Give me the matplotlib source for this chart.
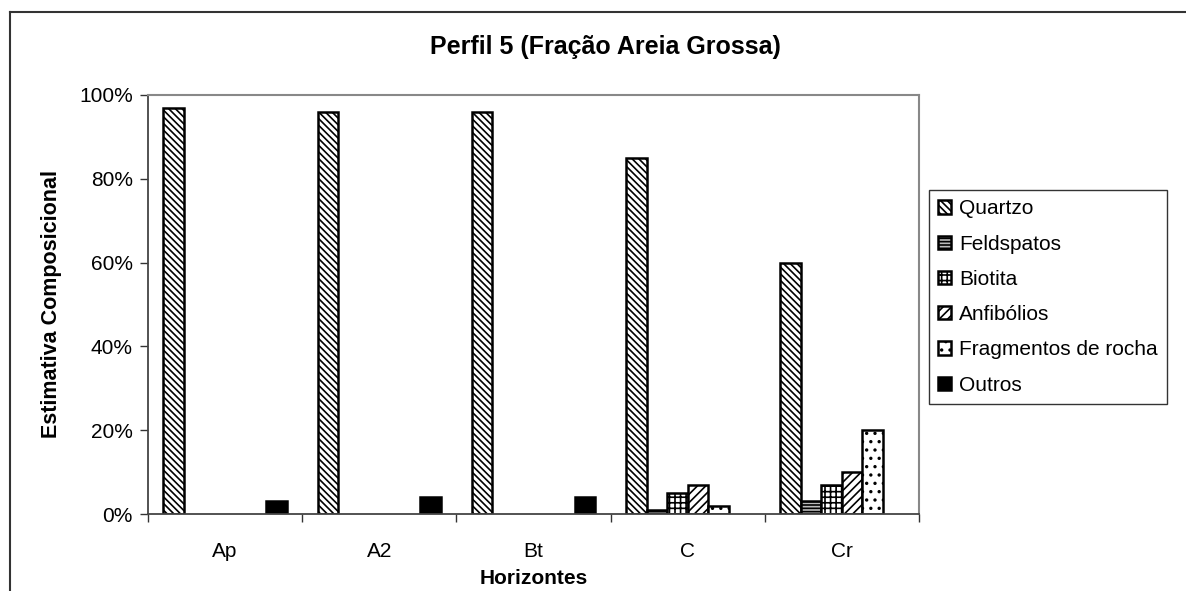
import matplotlib
matplotlib.use("Agg")
import matplotlib.pyplot as plt
import numpy as np
from matplotlib.lines import Line2D
from matplotlib.ticker import FixedLocator, PercentFormatter

plt.rcParams['font.family'] = ['Liberation Sans', 'DejaVu Sans']
plt.rcParams['hatch.linewidth'] = 1.2

horizontes = ['Ap', 'A2', 'Bt', 'C', 'Cr']
series = ['Quartzo', 'Feldspatos', 'Biotita', 'Anfibólios', 'Fragmentos de rocha', 'Outros']
quartzo = [97, 96, 96, 85, 60]
feldspatos = [0, 0, 0, 1, 3]
biotita = [0, 0, 0, 5, 7]
anfibolios = [0, 0, 0, 7, 10]
fragmentos = [0, 0, 0, 2, 20]
outros = [3, 4, 4, 0, 0]
values = [quartzo, feldspatos, biotita, anfibolios, fragmentos, outros]

styles = [
    dict(facecolor='white', hatch='\\\\\\\\\\'),
    dict(facecolor='#bbbbbb', hatch='-----'),
    dict(facecolor='white', hatch='+++'),
    dict(facecolor='white', hatch='////'),
    dict(facecolor='white', hatch='..'),
    dict(facecolor='black', hatch=None),
]

fig = plt.figure(figsize=(11.86, 5.91), dpi=100)
ax = fig.add_axes([148 / 1186, 1 - 514 / 591, 771 / 1186, 419 / 591])

n = len(series)
w = 0.8 / n
x = np.arange(len(horizontes))
handles = []
for i, (name, vals, st) in enumerate(zip(series, values, styles)):
    pos = x + (i - (n - 1) / 2) * w
    mask = np.array(vals) > 0
    bars = ax.bar(pos[mask], np.array(vals)[mask], width=w, edgecolor='black',
                  linewidth=1.8, label=name, **st)
    handles.append(bars)

ax.set_xlim(-0.5, len(horizontes) - 0.5)
ax.set_ylim(0, 100)
ax.yaxis.set_major_locator(FixedLocator([0, 20, 40, 60, 80, 100]))
ax.yaxis.set_major_formatter(PercentFormatter(decimals=0))
ax.set_xticks(x)
ax.set_xticklabels(horizontes)
ax.set_xticks(np.arange(-0.5, len(horizontes)), minor=True)
ax.tick_params(axis='x', which='major', length=0, pad=20, labelsize=15)
ax.tick_params(axis='x', which='minor', length=6, width=1, color='#333333')
ax.tick_params(axis='y', length=6, width=1, color='#333333', labelsize=15, pad=5)

for s in ['top', 'right']:
    ax.spines[s].set_color('#888888')
    ax.spines[s].set_linewidth(1.5)
for s in ['left', 'bottom']:
    ax.spines[s].set_color('#444444')
    ax.spines[s].set_linewidth(1.3)

ax.set_xlabel('Horizontes', fontsize=15, fontweight='bold', labelpad=6)
ax.set_ylabel('Estimativa Composicional', fontsize=15.5, fontweight='bold', labelpad=12)
fig.text(605 / 1186, 1 - 47 / 591, 'Perfil 5 (Fração Areia Grossa)', fontsize=18,
         fontweight='bold', ha='center', va='center')

leg = fig.legend(handles=handles, labels=series, loc='upper left',
                 bbox_to_anchor=(929 / 1186, 1 - 190 / 591), frameon=True,
                 fancybox=False, edgecolor='black', fontsize=15, handlelength=0.6,
                 handleheight=0.6, handletextpad=0.4, labelspacing=0.78,
                 borderpad=0.45, borderaxespad=0)
leg.get_frame().set_linewidth(1.0)

# outer frame of the chart area
fig.add_artist(Line2D([9.5 / 1186, 9.5 / 1186], [0, 1 - 12 / 591], color='#333333',
                      linewidth=1.5, transform=fig.transFigure))
fig.add_artist(Line2D([9.5 / 1186, 1], [1 - 12 / 591, 1 - 12 / 591], color='#333333',
                      linewidth=1.5, transform=fig.transFigure))

fig.savefig('out.png', dpi=100, facecolor='white')
